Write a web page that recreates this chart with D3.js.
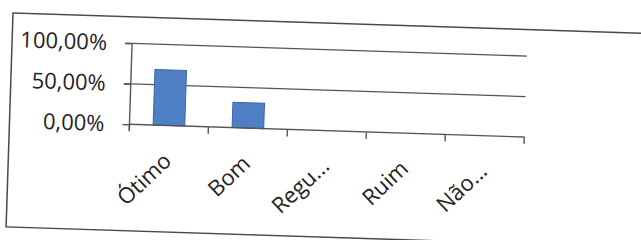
<!DOCTYPE html>
<html><head><meta charset="utf-8">
<script src="https://cdn.jsdelivr.net/npm/d3@7"></script>
<style>
html,body{margin:0;padding:0;background:#fff;}
svg{display:block;}
text{font-family:"Open Sans",sans-serif;fill:#222;}
</style></head>
<body>
<svg id="c" width="641" height="240"></svg>
<script>
const categories = ["Ótimo", "Bom", "Regu...", "Ruim", "Não..."];
const values = [0.6875, 0.3125, 0, 0, 0];
const yTicks = [0, 0.5, 1];
const yTickLabels = ["0,00%", "50,00%", "100,00%"];

const svg = d3.select("#c");
const g = svg.append("g").attr("transform", "rotate(1.85,13,13)");

// chart frame
g.append("rect").attr("x", 13).attr("y", 13).attr("width", 700).attr("height", 214)
  .attr("fill", "none").attr("stroke", "#4a4a4a").attr("stroke-width", 1.5);

const x0 = 133, x1 = 528, yTop = 39.5, yBot = 120.5;
const x = d3.scaleBand().domain(categories).range([x0, x1]).paddingInner(0.6).paddingOuter(0.3);
const xb = d3.scaleBand().domain(categories).range([x0, x1]);
const y = d3.scaleLinear().domain([0, 1]).range([yBot, yTop]);

// gridlines
g.append("g").selectAll("line").data(yTicks.filter(d => d > 0)).join("line")
  .attr("x1", x0 - 7).attr("x2", x1).attr("y1", d => y(d)).attr("y2", d => y(d))
  .attr("stroke", "#555").attr("stroke-width", 1.4);

// bars
g.append("g").selectAll("rect").data(values).join("rect")
  .attr("x", (d, i) => x(categories[i])).attr("width", x.bandwidth())
  .attr("y", d => y(d)).attr("height", d => y(0) - y(d))
  .attr("fill", "#4f7fc4").attr("stroke", "#3a66a8").attr("stroke-width", 1);

// y axis
const ya = g.append("g").attr("transform", `translate(${x0},0)`)
  .call(d3.axisLeft(y).tickValues(yTicks).tickSize(7).tickPadding(18)
    .tickFormat((d, i) => yTickLabels[i]));
ya.select(".domain").attr("d", `M-0,${yTop}V${yBot + 6}`).attr("stroke", "#555").attr("stroke-width", 1.4);
ya.selectAll(".tick line").attr("stroke", "#555").attr("stroke-width", 1.4);
ya.selectAll("text").style("font-size", "22px").style("font-family", "Open Sans").attr("fill", "#222");

// x axis
const ticksX = categories.map(c => xb(c)).concat([x1]);
const xa = g.append("g");
xa.append("line").attr("x1", x0).attr("x2", x1).attr("y1", yBot).attr("y2", yBot)
  .attr("stroke", "#555").attr("stroke-width", 1.4);
xa.selectAll("line.t").data(ticksX).join("line").attr("class", "t")
  .attr("x1", d => d).attr("x2", d => d).attr("y1", yBot).attr("y2", yBot + 7)
  .attr("stroke", "#555").attr("stroke-width", 1.4);
xa.selectAll("text").data(categories).join("text")
  .attr("transform", d => `translate(${xb(d) + xb.bandwidth() / 2 + 5},${yBot + 37}) rotate(-45)`)
  .attr("text-anchor", "end")
  .style("font-size", "22px")
  .text(d => d);
</script>
</body></html>
